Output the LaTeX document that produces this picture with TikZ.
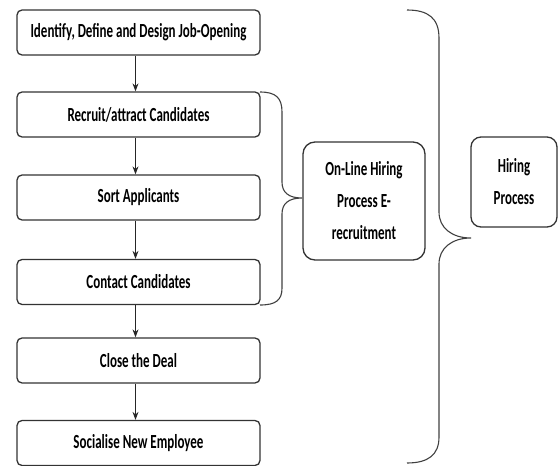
\documentclass[tikz,border=0pt]{standalone}
\usepackage{fontspec}
\setmainfont{Carlito}[FakeStretch=0.65]
\usetikzlibrary{arrows.meta}
\begin{document}
\begin{tikzpicture}[x=1pt,y=-1pt,
  stepbox/.style={draw=black!80,line width=1.3pt,rounded corners=5pt,minimum width=243pt,minimum height=45pt,inner sep=0pt,font=\fontsize{20}{22}\selectfont\bfseries},
  sidebox/.style={draw=black!80,line width=1.3pt,rounded corners=12pt,inner sep=0pt,align=center,font=\fontsize{20}{32}\selectfont\bfseries},
  flow/.style={draw=black!85,line width=1pt,-{Stealth[length=8pt,width=6pt]}},
  brace/.style={draw=black!75,line width=1.1pt}]
\useasboundingbox (0,0) rectangle (558,466);
\node[stepbox] (b1) at (138.5,32.5) {Identify, Define and Design Job-Opening};
\node[stepbox] (b2) at (138.5,114.5) {Recruit/attract Candidates};
\node[stepbox] (b3) at (138.5,197.5) {Sort Applicants};
\node[stepbox] (b4) at (138.5,282) {Contact Candidates};
\node[stepbox] (b5) at (138.5,360.5) {Close the Deal};
\node[stepbox] (b6) at (138.5,443) {Socialise New Employee};
\foreach \a/\b in {b1/b2,b2/b3,b3/b4,b4/b5,b5/b6}
  \draw[flow] ([xshift=-3pt]\a.south) -- ([xshift=-3pt]\b.north);
\node[sidebox,minimum width=122pt,minimum height=118pt] (ol) at (364,201) {On-Line Hiring\\Process E-\\recruitment};
\node[sidebox,minimum width=86pt,minimum height=90pt,rounded corners=10pt] (hp) at (514,182) {Hiring\\Process};
% small brace
\coordinate (s1) at (260,92);
\coordinate (st) at (302,198);
\coordinate (s2) at (260,305);
\draw[brace] (s1) .. controls (276,92) and (282,98) .. (282,112)
  -- (282,182) .. controls (282,192) and (288,198) .. (st)
  .. controls (288,198) and (282,204) .. (282,214)
  -- (282,288) .. controls (282,300) and (276,305) .. (s2);
% big brace
\coordinate (t1) at (407,10);
\coordinate (tt) at (471,238);
\coordinate (t2) at (407,463);
\draw[brace] (t1) .. controls (428,10) and (439,18) .. (439,38)
  -- (439,212) .. controls (439,228) and (452,238) .. (tt)
  .. controls (452,238) and (439,248) .. (439,264)
  -- (439,437) .. controls (439,455) and (428,463) .. (t2);
\end{tikzpicture}
\end{document}
